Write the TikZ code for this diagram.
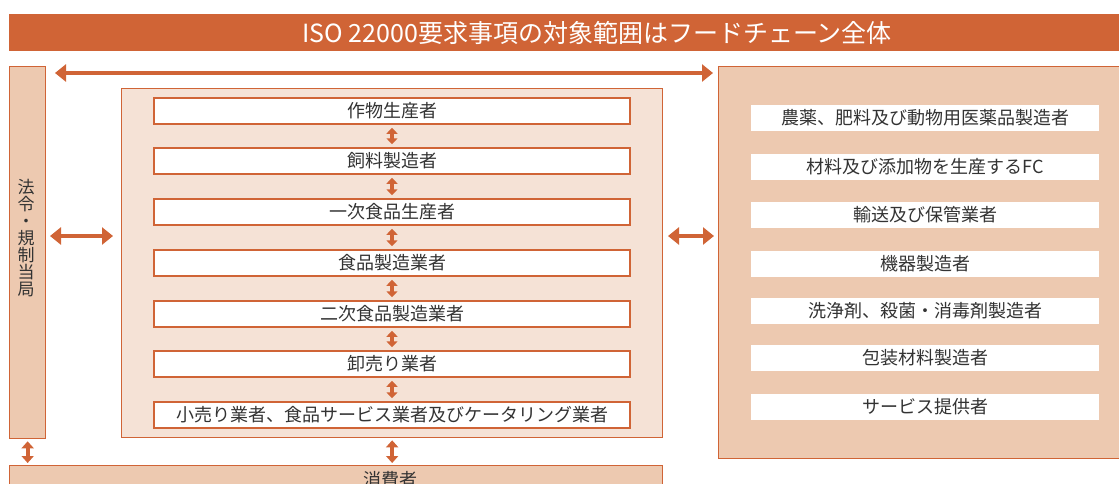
\documentclass[tikz,border=0pt]{standalone}
\usepackage{fontspec}
\setmainfont{Noto Sans CJK JP}
\usetikzlibrary{arrows.meta}
\definecolor{org}{HTML}{D06436}
\definecolor{dfill}{HTML}{EDC9B0}
\definecolor{lfill}{HTML}{F5E2D6}
\definecolor{txt}{HTML}{333333}
\tikzset{
  jp/.style={font=\fontsize{18}{18}\selectfont, text=txt},
  chainbox/.style={jp, draw=org, line width=1.5pt, fill=white, minimum width=476pt, minimum height=26pt, inner sep=0pt},
  sidebox/.style={jp, fill=white, minimum width=348pt, minimum height=26pt, inner sep=0pt},
  panel/.style={draw=org, line width=1.3pt, anchor=north west, inner sep=0pt},
  bigarrow/.style={org, line width=4.5pt, {Triangle[length=11pt,width=17pt]}-{Triangle[length=11pt,width=17pt]}},
  smallarrow/.style={org, line width=3.2pt, {Triangle[length=6pt,width=11pt]}-{Triangle[length=6pt,width=11pt]}},
}
\begin{document}
\begin{tikzpicture}[x=1pt,y=-1pt]
\useasboundingbox (0,0) rectangle (1119,483);
\clip (0,0) rectangle (1119,483);
% title
\node[fill=org, anchor=north west, minimum width=1115pt, minimum height=37pt, inner sep=0pt] (titlebar) at (9,14) {};
\node[text=white, font=\fontsize{25}{25}\selectfont] (title) at (597,33) {ISO 22000要求事項の対象範囲はフードチェーン全体};
% left regulator panel
\node[panel, fill=dfill, minimum width=36pt, minimum height=372pt] (reg) at (9,66) {};
\node[jp, align=center, font=\fontsize{17}{17}\selectfont, inner sep=0pt] (regtxt) at (26,238) {法\\令\\・\\規\\制\\当\\局};
% middle chain container
\node[panel, fill=lfill, minimum width=541pt, minimum height=349pt] (chain) at (121,88) {};
\node[chainbox] (c1) at (392,111) {作物生産者};
\node[chainbox] (c2) at (392,161) {飼料製造者};
\node[chainbox] (c3) at (392,212) {一次食品生産者};
\node[chainbox] (c4) at (392,263) {食品製造業者};
\node[chainbox] (c5) at (392,314) {二次食品製造業者};
\node[chainbox] (c6) at (392,364) {卸売り業者};
\node[chainbox] (c7) at (392,415) {小売り業者、食品サービス業者及びケータリング業者};
\foreach \a/\b in {c1/c2,c2/c3,c3/c4,c4/c5,c5/c6,c6/c7}
  \draw[smallarrow, shorten <=3pt, shorten >=3pt] (\a.south) -- (\b.north);
% right panel
\node[panel, fill=dfill, minimum width=410pt, minimum height=392pt] (side) at (718,66) {};
\node[sidebox] (s1) at (925,118) {農薬、肥料及び動物用医薬品製造者};
\node[sidebox] (s2) at (925,167) {材料及び添加物を生産するFC};
\node[sidebox] (s3) at (925,215) {輸送及び保管業者};
\node[sidebox] (s4) at (925,264) {機器製造者};
\node[sidebox] (s5) at (925,311) {洗浄剤、殺菌・消毒剤製造者};
\node[sidebox] (s6) at (925,358) {包装材料製造者};
\node[sidebox] (s7) at (925,407) {サービス提供者};
% consumer
\node[panel, fill=dfill, minimum width=653pt, minimum height=40pt] (cons) at (9,465) {};
\node[jp] (constxt) at (390,480) {消費者};
% connectors
\coordinate (tl) at (45,73);
\coordinate (tr) at (718,73);
\draw[bigarrow, line width=4pt, shorten <=10pt, shorten >=5pt] (tl) -- (tr);
\coordinate (la) at (45,236);
\coordinate (lb) at (121,236);
\draw[bigarrow, shorten <=5pt, shorten >=8pt] (la) -- (lb);
\coordinate (ra) at (662,236);
\coordinate (rb) at (718,236);
\draw[bigarrow, shorten <=6pt, shorten >=4pt] (ra) -- (rb);
\draw[smallarrow, line width=4pt, {Triangle[length=7pt,width=12pt]}-{Triangle[length=7pt,width=12pt]}, shorten <=2pt, shorten >=2pt] (reg.south) -- (reg.south |- cons.north);
\draw[smallarrow, line width=4pt, {Triangle[length=7pt,width=12pt]}-{Triangle[length=7pt,width=12pt]}, shorten <=2pt, shorten >=2pt] (chain.south) -- (chain.south |- cons.north);
\end{tikzpicture}
\end{document}
